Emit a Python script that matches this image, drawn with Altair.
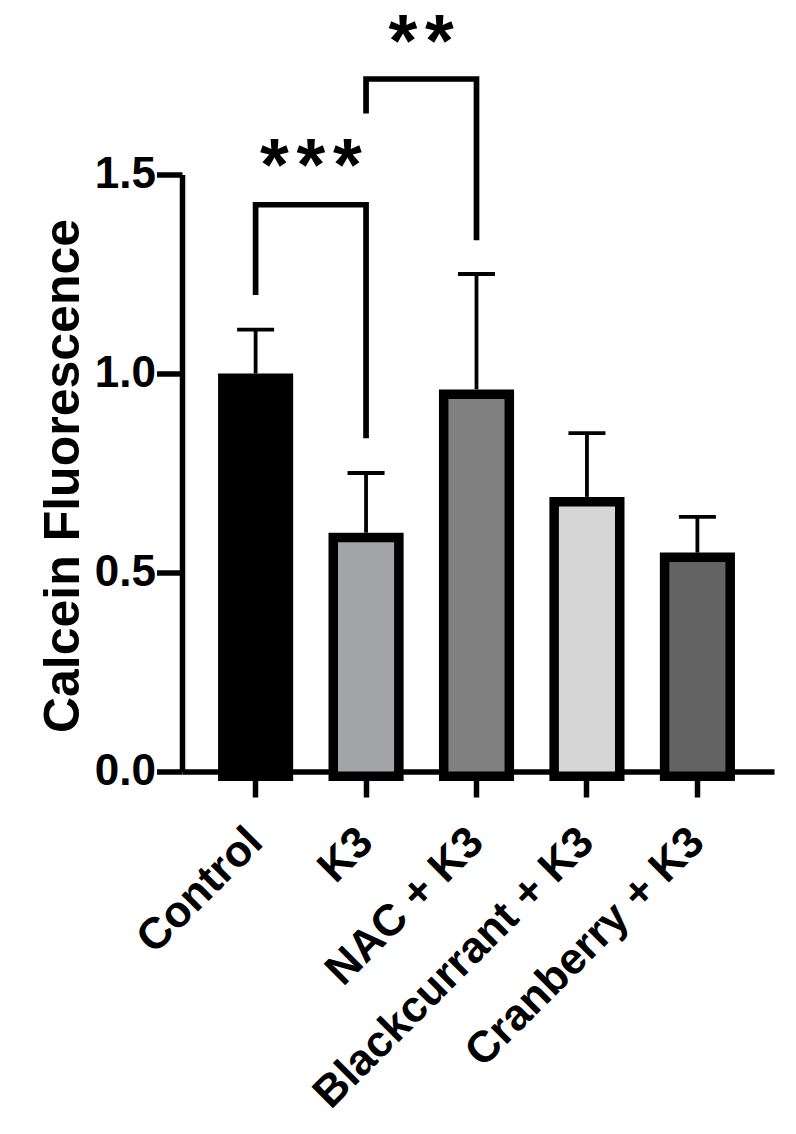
import altair as alt
import pandas as pd

# ---- data ----
categories = ["Control", "K3", "NAC + K3", "Blackcurrant + K3", "Cranberry + K3"]
means = [1.00, 0.60, 0.96, 0.69, 0.55]
uppers = [1.11, 0.75, 1.25, 0.85, 0.64]
fills = ["#000000", "#a3a4a8", "#808080", "#d6d6d6", "#636363"]

# significance brackets (path points)
br_ids = [1, 1, 1, 1, 2, 2, 2, 2]
br_seq = [0, 1, 2, 3, 0, 1, 2, 3]
br_groups = ["Control", "Control", "K3", "K3", "K3", "K3", "NAC + K3", "NAC + K3"]
br_values = [1.197, 1.424, 1.424, 0.837, 1.653, 1.740, 1.740, 1.335]

# significance stars: "***" between Control and K3, "**" between K3 and NAC + K3
star_groups = ["Control", "Control", "Control", "K3", "K3"]
star_values = [1.542, 1.542, 1.542, 1.854, 1.854]
star_slots = [-1.0, 0.0, 1.0, -0.5, 0.5]

y_ticks = [0.0, 0.5, 1.0, 1.5]

bars_df = pd.DataFrame({"group": categories, "value": means, "upper": uppers})
br_df = pd.DataFrame({"bracket": br_ids, "seq": br_seq, "group": br_groups, "value": br_values})
star_df = pd.DataFrame({"group": star_groups, "value": star_values, "slot": star_slots, "label": "*"})

FONT = "Liberation Sans"
HALF_STEP = 55.2
STAR_GAP = 36.5

x_enc = alt.X(
    "group:N",
    sort=categories,
    scale=alt.Scale(paddingInner=0.32, paddingOuter=0.34, align=0.48),
    axis=alt.Axis(
        title=None,
        labelAngle=-45,
        labelAlign="right",
        labelBaseline="middle",
        labelPadding=38,
        labelFontSize=44,
        labelFont=FONT,
        labelFontWeight="bold",
        labelColor="black",
        labelLimit=2000,
        domainColor="black",
        domainWidth=5.5,
        tickColor="black",
        tickWidth=5.5,
        tickSize=25.5,
        labelOverlap=False,
    ),
)

y_enc = alt.Y(
    "value:Q",
    scale=alt.Scale(domain=[0, 1.5], nice=False, zero=True),
    axis=alt.Axis(
        title="Calcein Fluorescence",
        values=y_ticks,
        format=".1f",
        grid=False,
        labelFontSize=44,
        labelFont=FONT,
        labelFontWeight="bold",
        labelColor="black",
        labelPadding=1,
        domainColor="black",
        domainWidth=5.5,
        tickColor="black",
        tickWidth=5.5,
        tickSize=25.5,
        titleFont=FONT,
        titleFontSize=50,
        titleFontWeight="bold",
        titleColor="black",
        titleAngle=270,
        titleAlign="center",
        titleBaseline="alphabetic",
        titleX=-103.5,
        titleY=301,
    ),
)

bars = alt.Chart(bars_df).mark_bar(
    width=65.6,
    stroke="black",
    strokeWidth=9.5,
    strokeJoin="miter",
    yOffset=4.75,
    y2Offset=-2.5,
).encode(
    x=x_enc,
    y=y_enc,
    fill=alt.Fill("group:N", scale=alt.Scale(domain=categories, range=fills), legend=None),
)

whisker = alt.Chart(bars_df).mark_rule(color="black", strokeWidth=3.8).encode(
    x=x_enc, y=y_enc, y2="upper:Q"
)

caps = alt.Chart(bars_df).mark_tick(color="black", size=37, thickness=3.8, opacity=1).encode(
    x=x_enc, y=alt.Y("upper:Q")
)

brackets = alt.Chart(br_df).mark_line(
    color="black", strokeWidth=5.7, strokeJoin="miter", strokeCap="butt"
).encode(
    x=x_enc,
    y=y_enc,
    detail="bracket:N",
    order=alt.Order("seq:Q"),
)

star_layers = []
for slot in sorted(set(star_slots)):
    sub = star_df[star_df["slot"] == slot]
    star_layers.append(
        alt.Chart(sub).mark_text(
            font=FONT,
            fontWeight="bold",
            fontSize=74,
            color="black",
            dx=HALF_STEP + slot * STAR_GAP,
            dy=32.5,
            baseline="alphabetic",
            align="center",
        ).encode(x=x_enc, y=y_enc, text="label:N")
    )

chart = alt.layer(bars, whisker, caps, brackets, *star_layers).properties(
    width=592,
    height=597,
    padding={"left": 174, "top": 166.5, "right": 14, "bottom": 354},
    autosize=alt.AutoSizeParams(type="none"),
).configure_view(stroke="transparent")

chart.save("out.html", embed_options={"renderer": "svg", "actions": False})
